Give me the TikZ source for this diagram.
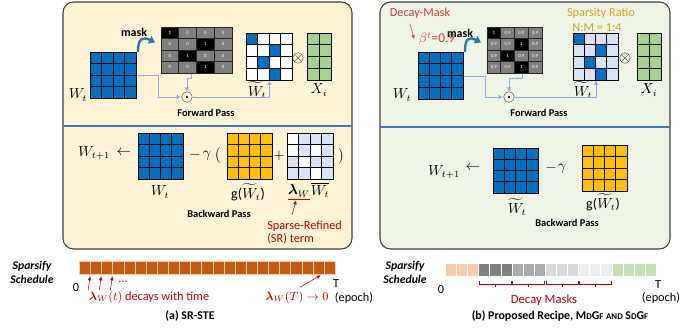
\documentclass[tikz,border=0pt]{standalone}
\usepackage{amsmath}
\usepackage{bm}
\usepackage{fontspec}
\setmainfont{Carlito}
\usetikzlibrary{positioning,arrows.meta,calc}

\definecolor{wblue}{HTML}{0070C0}
\definecolor{wlight}{HTML}{DAE3F3}
\definecolor{gyellow}{HTML}{FFC000}
\definecolor{xgreen}{HTML}{A9D18E}
\definecolor{panelA}{HTML}{FFF3D5}
\definecolor{panelB}{HTML}{EEF5E6}
\definecolor{divblue}{HTML}{4472C4}
\definecolor{fwdblue}{HTML}{8FAADC}
\definecolor{arcblue}{HTML}{2E75B6}
\definecolor{srred}{HTML}{C00000}
\definecolor{hotred}{HTML}{E0393E}
\definecolor{gold}{HTML}{D4A21B}
\definecolor{maskon}{HTML}{000000}
\definecolor{maskoff}{HTML}{7F7F7F}
\definecolor{rust}{HTML}{C55A11}
\definecolor{peach}{HTML}{F8CBAD}
\definecolor{gA}{HTML}{7F7F7F}
\definecolor{gB}{HTML}{AFABAB}
\definecolor{gC}{HTML}{D9D9D9}
\definecolor{gD}{HTML}{EDEDED}
\definecolor{lgreen}{HTML}{C5E0B4}

% inner grid lines of a matrix box: node, cols, rows, cell w, cell h
\newcommand{\gridin}[5]{%
  \pgfmathtruncatemacro\gcols{#2-1}%
  \pgfmathtruncatemacro\grows{#3-1}%
  \foreach \gi in {1,...,\gcols}
    \draw[gridln] ($(#1.north west)+({\gi*#4},0)$) -- ++(0,{#3*#5});
  \foreach \gj in {1,...,\grows}
    \draw[gridln] ($(#1.north west)+(0,{\gj*#5})$) -- ++({#2*#4},0);
  \draw[gridln] (#1.north west) rectangle (#1.south east);
}
% coloured cells: node, cell w, cell h, colour, list col/row
\newcommand{\cellsin}[5]{%
  \foreach \c/\r in {#5}
    \fill[#4] ($(#1.north west)+({(\c-1)*#2},{(\r-1)*#3})$) rectangle ++(#2,#3);
}
\newcommand{\fsc}[1]{{\fontsize{6.6}{7}\selectfont #1}}

\begin{document}
\begin{tikzpicture}[x=0.75pt, y=-0.75pt,
    panel/.style={draw=black!75, line width=0.8pt, rounded corners=8pt},
    gbox/.style 2 args={draw=black, line width=0.7pt, inner sep=0pt, anchor=north west, minimum width=#1*0.75pt, minimum height=#2*0.75pt},
    gridln/.style={black, line width=0.7pt},
    mcell/.style={draw=black!85, line width=0.5pt, inner sep=0pt, text=white, font=\fontsize{3.6}{4}\selectfont},
    opsym/.style={inner sep=0pt, font=\fontsize{12}{13}\selectfont},
    lbl/.style={inner sep=0pt, font=\fontsize{10.5}{12}\selectfont},
    pass/.style={font=\fontsize{7.8}{9}\selectfont\bfseries},
    txt/.style={font=\fontsize{9.2}{9.8}\selectfont},
    note/.style={txt, text=srred},
    fwd/.style={fwdblue, line width=0.6pt, -{Triangle[length=3pt,width=3pt]}},
    maskarc/.style={arcblue, line width=1.8pt, -{Triangle[length=4.5pt,width=6pt]}},
    pointer/.style={srred, line width=0.4pt, -{Triangle[length=3pt,width=2.4pt]}},
    slot/.style={inner sep=0pt, anchor=north west, minimum width=8.35pt, minimum height=9.5pt, line width=0.5pt},
    bracket/.style={srred, line width=0.6pt},
    sched/.style={align=center, font=\fontsize{8.8}{10.5}\selectfont\bfseries\itshape},
    capt/.style={font=\fontsize{8.9}{10}\selectfont\bfseries}]
  \useasboundingbox (0,0) rectangle (681,328);

  % ---- (a) SR-STE panel
  \draw[panel, fill=panelA] (63,2) rectangle (352,249);
  \draw[divblue, line width=1.2pt] (63,126) -- (352,126);

  \node[gbox={46}{46}, fill=wblue] (wa) at (90,52) {};
  \gridin{wa}{4}{4}{11.5}{11.5}
  \node[lbl] (wa-l) at (78,95) {$W_t$};
  \node[capt] (mask-a) at (134,32) {mask};
  \node[gbox={71}{46}] (ml) at (161,27) {};
  \foreach \r/\row in {1/{1/on,0/off,0/off,0/off}, 2/{0/off,0/off,1/on,0/off},
                       3/{0/off,1/on,0/off,0/off}, 4/{0/off,0/off,1/on,0/off}}
    \foreach \v/\f [count=\c] in \row
      \node[mcell, fill=mask\f, minimum width=13.31pt, minimum height=8.63pt] (ml-\r-\c)
        at ($(ml.north west)+({(\c-0.5)*17.75},{(\r-0.5)*11.5})$) {\v};
  \draw[maskarc] ($(wa.north east)+(1,0)$) .. controls +(0,-14) and +(-12,-6) .. ($(ml.west)+(-6,-8)$);

  \node[gbox={46}{47}, fill=white] (wtl) at (246,33) {};
  \cellsin{wtl}{11.5}{11.75}{wblue}{1/1,3/2,2/3,3/4}
  \gridin{wtl}{4}{4}{11.5}{11.75}
  \node[opsym] (otl) at (298,59) {$\otimes$};
  \node[gbox={24}{47}, fill=xgreen] (xl) at (307,33) {};
  \gridin{xl}{2}{4}{12}{11.75}
  \node[lbl] (wtl-l) at (257,90) {$\widetilde{W}_t$};
  \node[lbl] (xl-l) at (319,90) {$X_i$};
  \node[opsym] (odl) at (187,97) {$\odot$};
  \draw[fwd] (wa.east) -- ++(21,0) |- (odl.west);
  \draw[fwd] ($(ml.south)+(-6,0)$) -- ++(0,4) -| (odl.north);
  \draw[fwd] (odl.east) -| (wtl.south);
  \node[pass] (fp-a) at (206,113) {Forward Pass};

  \node[lbl] (wn-a) at (94,153) {$W_{t+1}$};
  \node[lbl] (la-a) at (124,153) {$\leftarrow$};
  \node[gbox={45}{46}, fill=wblue] (wb-a) at (138,133) {};
  \gridin{wb-a}{4}{4}{11.25}{11.5}
  \node[lbl] (wb-l) at (160,192) {$W_t$};
  \node[lbl] (mi-a) at (195,155) {$-$};
  \node[lbl] (ga-a) at (207,156) {$\gamma$};
  \node[opsym] (lp-a) at (218,155) {$($};
  \node[gbox={45}{46}, fill=gyellow] (g-a) at (227,133) {};
  \gridin{g-a}{4}{4}{11.25}{11.5}
  \node[lbl] (g-a-l) at (248,192) {g($\widetilde{W}_t$)};
  \node[lbl] (pl-a) at (279,156) {$+$};
  \node[gbox={46}{46}, fill=wlight] (sr) at (287,133) {};
  \cellsin{sr}{11.5}{11.5}{white}{1/1,1/2,3/2,2/3,3/4}
  \gridin{sr}{4}{4}{11.5}{11.5}
  \node[opsym] (rp-a) at (341,156) {$)$};
  \node[lbl] (lam) at (299,191) {$\bm{\lambda}_W$};
  \node[lbl] (wbar) at (320,190) {$\overline{W_t}$};
  \draw[srred, line width=0.6pt] ($(lam.south west)+(0,2)$) -- ($(lam.south east)+(0,2)$);
  \coordinate (lam-u) at ($(lam.south)+(-3,3)$);
  \node[pass] (bp-a) at (219,214) {Backward Pass};
  \node[note, align=left, anchor=north west, inner sep=0pt] (srn) at (267,221) {Sparse-Refined\\(SR) term};
  \coordinate (sr-tail) at (292,215);
  \draw[pointer] (sr-tail) -- (lam-u);

  % ---- schedule (a)
  \node[sched] (ss-a) at (32,272) {Sparsify\\Schedule};
  \foreach \i in {1,...,23}
    \node[slot, fill=rust, draw=peach] (sa\i) at ({79+(\i-1)*11.13},261) {};
  \node[txt] (z-a) at (76,288) {0};
  \node[note] (dots) at (123,282) {...};
  \foreach \i in {2,3,4}
    \draw[pointer] ($(sa\i.south west)+(-2,16)$) -- ($(sa\i.south west)+(0,2)$);
  \node[note] (lam-t) at (149,297) {$\bm{\lambda}_W(t)$ decays with time};
  \node[note] (lam-T) at (297,297) {$\bm{\lambda}_W(T)\rightarrow 0$};
  \draw[pointer] ($(lam-T.north)+(3,1)$) -- ($(sa22.south)+(2,1)$);
  \node[txt] (T-a) at (336,284) {T};
  \node[txt] (ep-a) at (354,298) {(epoch)};
  \node[capt] (cap-a) at (190,316) {(a) SR-STE};

  % ---- (b) proposed panel
  \draw[panel, fill=panelB] (380,2) rectangle (670,249);
  \draw[divblue, line width=1.2pt] (380,127) -- (670,127);

  \node[txt, text=hotred] (dm) at (420,13) {Decay-Mask};
  \node[txt, text=hotred, font=\fontsize{10}{11}\selectfont] (beta) at (437,39) {$\beta^t$=0.9};
  \draw[pointer, hotred] ($(dm.south)+(-10,1)$) -- (beta.west);
  \node[capt] (mask-b) at (460,33) {mask};
  \node[gbox={45}{47}, fill=wblue] (wc) at (418,52) {};
  \gridin{wc}{4}{4}{11.25}{11.75}
  \node[lbl] (wc-l) at (402,95) {$W_t$};
  \node[gbox={55}{46}] (mr) at (487,27) {};
  \foreach \r/\row in {1/{1/on,0.9/off,0.9/off,0.9/off}, 2/{0.9/off,0.9/off,1/on,0.9/off},
                       3/{0.9/off,1/on,0.9/off,0.9/off}, 4/{0.9/off,0.9/off,1/on,0.9/off}}
    \foreach \v/\f [count=\c] in \row
      \node[mcell, fill=mask\f, minimum width=10.31pt, minimum height=8.63pt] (mr-\r-\c)
        at ($(mr.north west)+({(\c-0.5)*13.75},{(\r-0.5)*11.5})$) {\v};
  \draw[maskarc] ($(wc.north east)+(1,0)$) .. controls +(0,-14) and +(-12,-6) .. ($(mr.west)+(-6,-8)$);

  \node[txt, text=gold] (spr) at (601,13) {Sparsity Ratio};
  \node[txt, text=gold] (nm) at (597,28) {N:M = 1:4};
  \node[gbox={45}{47}, fill=wlight] (wtr) at (573,33) {};
  \cellsin{wtr}{11.25}{11.75}{wblue}{1/1,3/2,2/3,3/4}
  \gridin{wtr}{4}{4}{11.25}{11.75}
  \node[opsym] (otr) at (625,59) {$\otimes$};
  \node[gbox={24}{47}, fill=xgreen] (xr) at (637,33) {};
  \gridin{xr}{2}{4}{12}{11.75}
  \node[lbl] (wtr-l) at (583,90) {$\widetilde{W}_t$};
  \node[lbl] (xr-l) at (649,90) {$X_i$};
  \node[opsym] (odr) at (509,97) {$\odot$};
  \draw[fwd] (wc.east) -- ++(21,0) |- (odr.west);
  \draw[fwd] ($(mr.south)+(7,0)$) -- ++(0,4) -| (odr.north);
  \draw[fwd] (odr.east) -| (wtr.south);
  \node[pass] (fp-b) at (539,113) {Forward Pass};

  \node[lbl] (wn-b) at (444,172) {$W_{t+1}$};
  \node[lbl] (la-b) at (473,168) {$\leftarrow$};
  \node[gbox={45}{45}, fill=wblue] (wd) at (493,148) {};
  \gridin{wd}{4}{4}{11.25}{11.25}
  \node[lbl] (wd-l) at (517,207) {$\widetilde{W}_t$};
  \node[lbl] (mi-b) at (551,168) {$-$};
  \node[lbl] (ga-b) at (562,169) {$\gamma$};
  \node[gbox={45}{46}, fill=gyellow] (g-b) at (582,145) {};
  \gridin{g-b}{4}{4}{11.25}{11.5}
  \node[lbl] (g-b-l) at (603,202) {g($\widetilde{W}_t$)};
  \node[pass] (bp-b) at (567,223) {Backward Pass};

  % ---- schedule (b)
  \node[sched] (ss-b) at (405,272) {Sparsify\\Schedule};
  \foreach \i/\cl in {1/peach,2/peach,3/peach,4/gA,5/gA,6/gA,7/gB,8/gB,9/gB,10/gC,11/gC,12/gC,
                      13/gD,14/gD,15/gD,16/lgreen,17/lgreen,18/lgreen,19/lgreen}
    \node[slot, fill=\cl, draw=white] (sb\i) at ({445+(\i-1)*11.1},263) {};
  \foreach \a/\m/\b in {4/5/6,7/8/9,10/11/12,13/14/15} {
    \draw[bracket] ($(sb\a.south west)+(1,5)$) -- ++(0,3) -- ($(sb\b.south east)+(-1,8)$) -- ++(0,-3);
    \draw[bracket] ($(sb\m.south)+(0,8)$) -- ++(0,3);
  }
  \node[txt] (z-b) at (441,290) {0};
  \node[txt] (T-b) at (658,285) {T};
  \node[txt] (ep-b) at (661,298) {(epoch)};
  \node[note, font=\fontsize{9.5}{11}\selectfont] (dmk) at (544,300) {Decay Masks};
  \node[capt] (cap-b) at (560,316) {(b) Proposed Recipe, M\fsc{D}G\fsc{F} \fsc{AND} S\fsc{D}G\fsc{F}};
\end{tikzpicture}
\end{document}
